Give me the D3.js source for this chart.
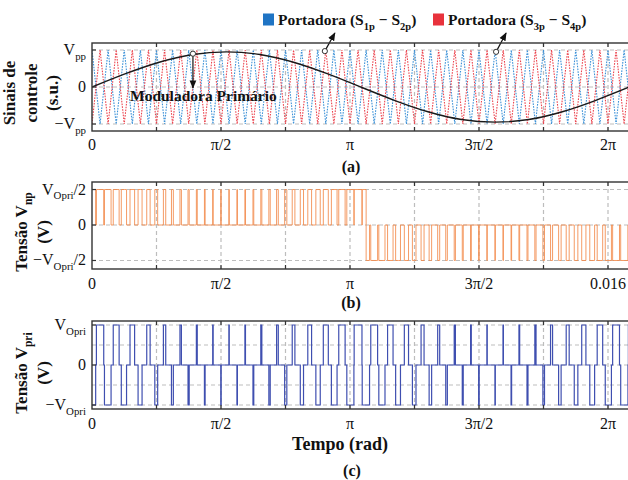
<!DOCTYPE html>
<html>
<head>
<meta charset="utf-8">
<script src="https://cdn.jsdelivr.net/npm/d3@7"></script>
<style>
  body { margin: 0; background: #fff; }
  text { font-family: "Liberation Serif", serif; fill: #111; }
</style>
</head>
<body>
<svg id="chart" width="628" height="480"></svg>
<script>
// Data (time in ms, axis labelled in rad)
// ----
const tickMs = [0, 2, 4, 6, 8, 10, 12, 14, 16];
const labelMs = [0, 4, 8, 12, 16];
const labelsA = ["0", "π/2", "π", "3π/2", "2π"];
const labelsB = ["0", "π/2", "π", "3π/2", "0.016"];
const labelsC = ["0", "π/2", "π", "3π/2", "2π"];

// carrier vertices (S1p-S2p starts at +Vpp, S3p-S4p at -Vpp)
const carrierMs = [0,0.25,0.5,0.75,1,1.25,1.5,1.75,2,2.25,2.5,2.75,3,3.25,3.5,3.75,
  4,4.25,4.5,4.75,5,5.25,5.5,5.75,6,6.25,6.5,6.75,7,7.25,7.5,7.75,8,8.25,8.5,8.75,
  9,9.25,9.5,9.75,10,10.25,10.5,10.75,11,11.25,11.5,11.75,12,12.25,12.5,12.75,13,
  13.25,13.5,13.75,14,14.25,14.5,14.75,15,15.25,15.5,15.75,16,16.25,16.5,16.75,17];

// modulator
const modMs = [0,1.042,2.083,3.125,4.167,5.208,6.25,7.292,8.333,9.375,10.417,11.458,12.5,13.542,14.583,15.625,16.667];
const modVal = [0,0.36,0.67,0.88,0.95,0.88,0.67,0.36,0,-0.36,-0.67,-0.88,-0.95,-0.88,-0.67,-0.36,0];

// modulator value in each carrier period (used for the switching)
const modPerPeriod = [0.09,0.27,0.43,0.58,0.71,0.82,0.89,0.94,0.95,0.93,0.87,0.79,0.67,0.53,0.38,0.21,
  0.03,-0.15,-0.32,-0.48,-0.63,-0.75,-0.85,-0.91,-0.95,-0.95,-0.91,-0.85,-0.75,-0.63,-0.48,-0.32,-0.15,-0.05];

const legendItems = [
  { label: [["Portadora (S"], ["1p", 1], [" − S"], ["2p", 1], [")"]], color: "#1f74c4" },
  { label: [["Portadora (S"], ["3p", 1], [" − S"], ["4p", 1], [")"]], color: "#e8323c" }
];

// Setup
// -----
const svg = d3.select("#chart");
const tEnd = 1000 / 60;
const x = d3.scaleLinear().domain([0, tEnd]).range([92, 629.5]);

const defs = svg.append("defs");
defs.append("marker").attr("id", "arrow")
  .attr("viewBox", "0 0 10 10").attr("refX", 9).attr("refY", 5)
  .attr("markerWidth", 7).attr("markerHeight", 7).attr("orient", "auto")
  .append("path").attr("d", "M0,1 L10,5 L0,9 Z").attr("fill", "#111");

function rich(sel, parts, size) {
  const t = sel.append("text").attr("font-size", size);
  let shifted = 0;
  parts.forEach(([s, sub]) => {
    const want = sub ? size * 0.3 : 0;
    t.append("tspan").text(s)
      .attr("font-size", sub ? size * 0.68 : size)
      .attr("dy", want - shifted);
    shifted = want;
  });
  return t;
}

function panel(id, top, bottom, yScaleDomain, yTicks, yLabels, hGrid, xLabels, xLabelY) {
  const y = d3.scaleLinear().domain(yScaleDomain).range([bottom, top]);
  const g = svg.append("g");
  defs.append("clipPath").attr("id", "clip" + id)
    .append("rect").attr("x", x(0)).attr("y", top)
    .attr("width", x(tEnd) - x(0)).attr("height", bottom - top);

  // grid
  g.selectAll(".vg").data(tickMs.slice(1)).join("line")
    .attr("x1", d => x(d)).attr("x2", d => x(d)).attr("y1", top).attr("y2", bottom)
    .attr("stroke", "#bdbdbd").attr("stroke-width", 1.2).attr("stroke-dasharray", "4,3");
  g.selectAll(".hg").data(hGrid).join("line")
    .attr("x1", x(0)).attr("x2", x(tEnd)).attr("y1", d => y(d)).attr("y2", d => y(d))
    .attr("stroke", "#bdbdbd").attr("stroke-width", 1.2).attr("stroke-dasharray", "4,3");

  const plot = g.append("g").attr("clip-path", `url(#clip${id})`);

  // x tick labels
  g.selectAll(".xl").data(labelMs).join("text")
    .attr("x", d => x(d)).attr("y", xLabelY).attr("text-anchor", "middle")
    .attr("font-size", 16).text((d, i) => xLabels[i]);

  // y tick labels
  yTicks.forEach((v, i) => {
    rich(g, yLabels[i], 16).attr("x", 86).attr("y", y(v) + 5).attr("text-anchor", "end");
  });

  return { g, plot, y, finish: () => {
    const f = svg.append("g");
    f.append("rect").attr("x", x(0)).attr("y", top)
      .attr("width", x(tEnd) - x(0)).attr("height", bottom - top)
      .attr("fill", "none").attr("stroke", "#333").attr("stroke-width", 1.4);
    f.selectAll(".tt").data(tickMs.slice(1)).join("path")
      .attr("d", d => `M${x(d)},${top}v4M${x(d)},${bottom}v-4`)
      .attr("stroke", "#333").attr("stroke-width", 1.2);
    f.selectAll(".yt").data(yTicks).join("path")
      .attr("d", d => `M${x(0)},${y(d)}h4`)
      .attr("stroke", "#333").attr("stroke-width", 1.2);
  }};
}

function yTitle(lines, cy) {
  lines.forEach(([cx, parts]) => {
    rich(svg.append("g").attr("transform", `translate(${cx},${cy}) rotate(-90)`), parts, 17)
      .attr("text-anchor", "middle").attr("dy", 6).attr("font-weight", "bold");
  });
}

// Switching states from carriers and modulator
// --------------------------------------------
const steps = [];
modPerPeriod.forEach((m, k) => {
  const t0 = carrierMs[2 * k], t1 = carrierMs[2 * k + 1], t2 = carrierMs[2 * k + 2];
  const a1 = t0 + (1 - m) / 2 * (t1 - t0), a2 = t2 - (1 - m) / 2 * (t2 - t1);
  const b1 = t0 + (1 + m) / 2 * (t1 - t0), b2 = t2 - (1 + m) / 2 * (t2 - t1);
  const cuts = [t0, a1, b1, b2, a2].sort((p, q) => p - q);
  cuts.forEach((c, i) => {
    const next = i < cuts.length - 1 ? cuts[i + 1] : t2;
    const mid = (c + next) / 2;
    const va = mid > a1 && mid < a2 ? 1 : 0;
    const vb = mid < b1 || mid > b2 ? 1 : 0;
    steps.push({ t: c, pri: va - vb, np: Math.abs(va - vb) * (m >= 0 ? 0.5 : -0.5) });
  });
});
steps.push(Object.assign({}, steps[steps.length - 1], { t: carrierMs[carrierMs.length - 1] }));

// Panel (a)
// ---------
const pa = panel("a", 43, 131, [-1.189, 1.189], [1, 0, -1],
  [[["V"], ["pp", 1]], [["0"]], [["−V"], ["pp", 1]]], [1, 0, -1], labelsA, 150);

const carrierLine = sign => d3.line()
  .x(d => x(d)).y((d, i) => pa.y(i % 2 === 0 ? sign : -sign));
pa.plot.append("path").attr("d", carrierLine(1)(carrierMs))
  .attr("fill", "none").attr("stroke", "#3d92d8").attr("stroke-width", 1.1)
  .attr("stroke-dasharray", "1.6,1.2");
pa.plot.append("path").attr("d", carrierLine(-1)(carrierMs))
  .attr("fill", "none").attr("stroke", "#ec4650").attr("stroke-width", 1.1)
  .attr("stroke-dasharray", "1.6,1.2");

pa.plot.append("path")
  .attr("d", d3.line().x((d, i) => x(modMs[i])).y(d => pa.y(d)).curve(d3.curveNatural)(modVal))
  .attr("fill", "none").attr("stroke", "#1a1a1a").attr("stroke-width", 1.4);

// annotation for the modulator
const noteMs = 3.13, noteVal = 0.9;
svg.append("line").attr("x1", x(noteMs)).attr("x2", x(noteMs))
  .attr("y1", pa.y(noteVal)).attr("y2", pa.y(0) + 1)
  .attr("stroke", "#111").attr("stroke-width", 1.2).attr("marker-end", "url(#arrow)");
svg.append("circle").attr("cx", x(noteMs)).attr("cy", pa.y(noteVal)).attr("r", 2.6)
  .attr("fill", "#fff").attr("stroke", "#333").attr("stroke-width", 1);
svg.append("text").attr("x", 130).attr("y", 101).attr("font-size", 15.5)
  .attr("font-weight", "bold").text("Moduladora Primário");

// legend arrows onto the carriers
[[7.22, 0.97], [12.53, 0.95]].forEach(([t, v]) => {
  svg.append("line").attr("x1", x(t)).attr("y1", pa.y(v))
    .attr("x2", x(t) + 10).attr("y2", 33)
    .attr("stroke", "#111").attr("stroke-width", 1.2).attr("marker-end", "url(#arrow)");
  svg.append("circle").attr("cx", x(t)).attr("cy", pa.y(v)).attr("r", 2.6)
    .attr("fill", "#fff").attr("stroke", "#333").attr("stroke-width", 1);
});

// legend
const lx = [263, 433];
legendItems.forEach((d, i) => {
  svg.append("rect").attr("x", lx[i]).attr("y", 13.5).attr("width", 11).attr("height", 12)
    .attr("fill", d.color);
  rich(svg, d.label, 15.5).attr("x", lx[i] + 15).attr("y", 25).attr("font-weight", "bold");
});

pa.finish();
yTitle([[15, [["Sinais de"]]], [37, [["controle"]]], [58, [["(s.u.)"]]]], 93);
svg.append("text").attr("x", 351).attr("y", 172).attr("text-anchor", "middle")
  .attr("font-size", 16).attr("font-weight", "bold").text("(a)");

// Panel (b)
// ---------
const pb = panel("b", 182, 269, [-0.62, 0.606], [0.5, 0, -0.5],
  [[["V"], ["Opri", 1], ["/2"]], [["0"]], [["−V"], ["Opri", 1], ["/2"]]], [0.5, 0, -0.5], labelsB, 289);
pb.plot.append("path")
  .attr("d", d3.line().x(d => x(d.t)).y(d => pb.y(d.np)).curve(d3.curveStepAfter)(steps))
  .attr("fill", "none").attr("stroke", "#f28a4a").attr("stroke-width", 1).attr("stroke-opacity", 0.85);
pb.finish();
yTitle([[27, [["Tensão V"], ["np", 1]]], [49, [["(V)"]]]], 232);
svg.append("text").attr("x", 351).attr("y", 308).attr("text-anchor", "middle")
  .attr("font-size", 16).attr("font-weight", "bold").text("(b)");

// Panel (c)
// ---------
const pc = panel("c", 321, 409, [-1.1, 1.1], [1, 0, -1],
  [[["V"], ["Opri", 1]], [["0"]], [["−V"], ["Opri", 1]]], [1, 0.5, 0, -0.5, -1], labelsC, 429);
pc.plot.append("path")
  .attr("d", d3.line().x(d => x(d.t)).y(d => pc.y(d.pri)).curve(d3.curveStepAfter)(steps))
  .attr("fill", "none").attr("stroke", "#3f4fb0").attr("stroke-width", 1.2);
pc.finish();
yTitle([[27, [["Tensão V"], ["pri", 1]]], [49, [["(V)"]]]], 373);
svg.append("text").attr("x", 340).attr("y", 450).attr("text-anchor", "middle")
  .attr("font-size", 18).attr("font-weight", "bold").text("Tempo (rad)");
svg.append("text").attr("x", 352).attr("y", 476).attr("text-anchor", "middle")
  .attr("font-size", 16).attr("font-weight", "bold").text("(c)");
</script>
</body>
</html>
